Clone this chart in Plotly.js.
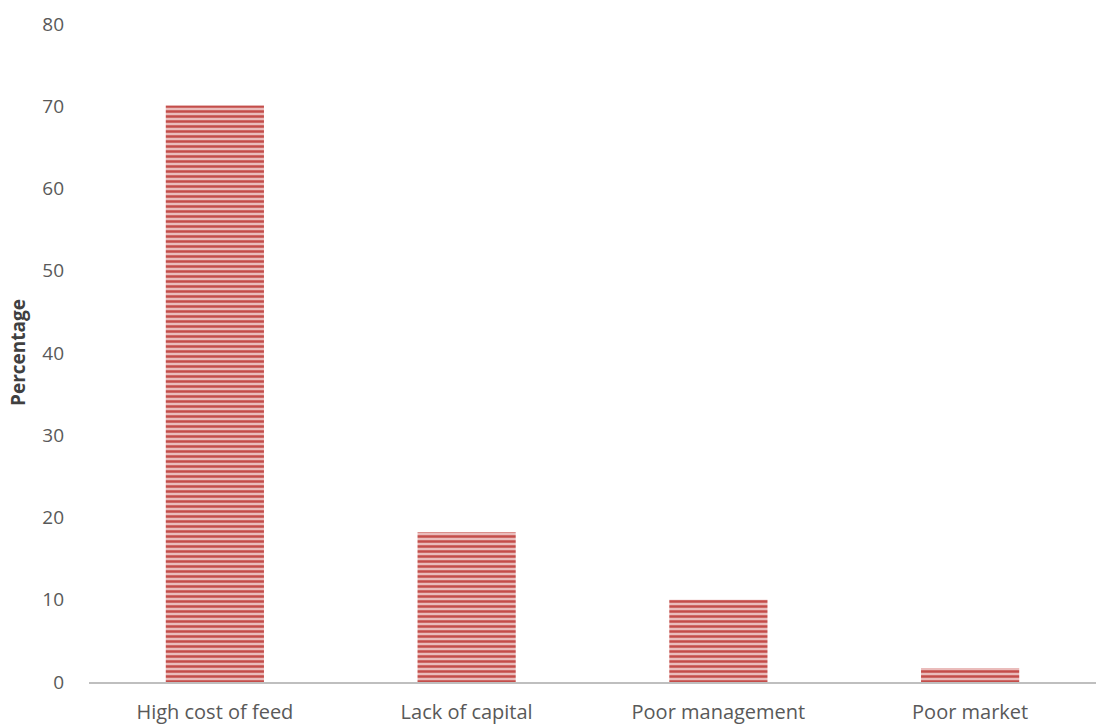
<!DOCTYPE html>
<html>
<head>
<meta charset="utf-8">
<script src="https://cdn.plot.ly/plotly-3.0.1.min.js"></script>
<style>html,body{margin:0;padding:0;background:#fff;}#chart{width:1109px;height:726px;}</style>
</head>
<body>
<div id="chart"></div>
<script>
const categories = ["High cost of feed", "Lack of capital", "Poor management", "Poor market"];
const percentages = [70.1, 18.2, 10.0, 1.7];
const yTicks = [0, 10, 20, 30, 40, 50, 60, 70, 80];
const yTitle = "Percentage";

const trace = {
  type: 'bar',
  x: categories,
  y: percentages,
  marker: {
    color: '#e9b3b2',
    line: {width: 0},
    pattern: {shape: '-', fgcolor: '#c44d4a', bgcolor: '#eabcbb', size: 5, solidity: 0.5, fillmode: 'replace'}
  },
  hoverinfo: 'x+y'
};

const layout = {
  width: 1109, height: 726,
  margin: {l: 89, r: 13, t: 24, b: 44},
  paper_bgcolor: '#ffffff', plot_bgcolor: '#ffffff',
  bargap: 0.61,
  showlegend: false,
  font: {family: '"Open Sans", "Liberation Sans", sans-serif', color: '#595959', size: 19},
  xaxis: {
    showgrid: false, zeroline: false,
    showline: true, linecolor: '#bfbfbf', linewidth: 2,
    ticks: '', tickfont: {size: 20, color: '#595959'},
    ticklabelstandoff: 11
  },
  yaxis: {
    range: [0, 80], tickvals: yTicks, ticktext: yTicks.map(String),
    showgrid: false, zeroline: false, showline: false,
    ticks: '', tickfont: {size: 19, color: '#595959'},
    ticklabelstandoff: 24
  },
  annotations: [{
    text: '<b>' + yTitle + '</b>', textangle: -90,
    xref: 'paper', yref: 'paper', x: -0.0705, y: 0.5,
    xanchor: 'center', yanchor: 'middle', showarrow: false,
    font: {size: 19, color: '#404040'}
  }]
};

Plotly.newPlot('chart', [trace], layout, {displayModeBar: false, staticPlot: true});
</script>
</body>
</html>
